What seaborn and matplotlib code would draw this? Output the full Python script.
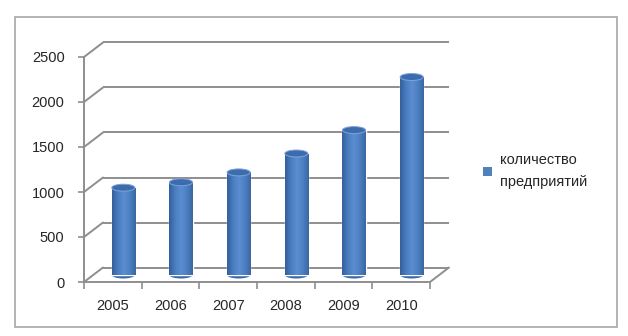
import numpy as np
import pandas as pd
import matplotlib
matplotlib.use("Agg")
import matplotlib.pyplot as plt
import seaborn as sns
from matplotlib.transforms import ScaledTranslation
from matplotlib.patches import Ellipse, Rectangle, Patch
from matplotlib.lines import Line2D
from matplotlib.colors import LinearSegmentedColormap

# ---- data ----
years = ["2005", "2006", "2007", "2008", "2009", "2010"]
counts = [970, 1030, 1140, 1350, 1610, 2200]
y_ticks = [0, 500, 1000, 1500, 2000, 2500]
series_label = "количество\nпредприятий"

sns.set_theme(style="white")
plt.rcParams['font.family'] = ['Liberation Sans', 'DejaVu Sans']

DPI = 100
fig = plt.figure(figsize=(6.28, 3.36), dpi=DPI)
W, H = 628, 336
left, right, bottom_px, top_px = 84, 430, 282, 57
ax = fig.add_axes([left / W, 1 - bottom_px / H, (right - left) / W, (bottom_px - top_px) / H])

df = pd.DataFrame({"year": years, "count": counts})
BLUE = "#4a7ebb"
sns.barplot(data=df, x="year", y="count", color=BLUE, width=0.4, ax=ax,
            saturation=1, zorder=3)

ax.set_xlim(-0.5, len(years) - 0.5)
ax.set_ylim(0, 2500)
ax.set_yticks(y_ticks)
ax.set_xlabel("")
ax.set_ylabel("")

GRID = "#8e8e8e"
back_dx, back_dy = 19 / DPI, 14.5 / DPI
mid_dx, mid_dy = 10.5 / DPI, 7 / DPI
back_tr = ax.transData + ScaledTranslation(back_dx, back_dy, fig.dpi_scale_trans)
bar_tr = ax.transData + ScaledTranslation(mid_dx, mid_dy, fig.dpi_scale_trans)

xmin, xmax = ax.get_xlim()
for v in y_ticks:
    ax.plot([xmin, xmax], [v, v], color=GRID, lw=1.4, transform=back_tr,
            zorder=1, clip_on=False, solid_capstyle="butt")
    p0 = ax.transData.transform((xmin, v))
    p1 = back_tr.transform((xmin, v))
    ax.add_line(Line2D([p0[0], p1[0]], [p0[1], p1[1]], transform=None,
                       color=GRID, lw=1.4, zorder=1, clip_on=False))
p0 = ax.transData.transform((xmax, 0))
p1 = back_tr.transform((xmax, 0))
ax.add_line(Line2D([p0[0], p1[0]], [p0[1], p1[1]], transform=None,
                   color=GRID, lw=1.4, zorder=1, clip_on=False))

cmap = LinearSegmentedColormap.from_list(
    "cyl", ["#345f9c", "#4a7ec0", "#5b8dd0", "#4d80c2", "#3a66a4"])
grad = np.linspace(0, 1, 64).reshape(1, -1)
inv = ax.transData.inverted()
ell_h = inv.transform((0, 7))[1] - inv.transform((0, 0))[1]
for p in list(ax.patches):
    p.set_transform(bar_tr)
    p.set_clip_on(False)
    x, w, h = p.get_x(), p.get_width(), p.get_height()
    im = ax.imshow(grad, extent=[x, x + w, 0, h], aspect="auto", cmap=cmap,
                   zorder=4, interpolation="bicubic")
    im.set_transform(bar_tr)
    im.set_clip_path(p)
    ax.add_patch(Ellipse((x + w / 2, 0), w, ell_h, transform=bar_tr,
                         facecolor="#3c6aa8", edgecolor="none", zorder=2.5, clip_on=False))
    ax.add_patch(Ellipse((x + w / 2, h), w, ell_h, transform=bar_tr,
                         facecolor="#3d6cae", edgecolor="#7ea4d8", lw=0.7,
                         zorder=5, clip_on=False))

ax.set_xlim(xmin, xmax)
ax.set_ylim(0, 2500)

for s in ["top", "right"]:
    ax.spines[s].set_visible(False)
for s in ["left", "bottom"]:
    ax.spines[s].set_color(GRID)
    ax.spines[s].set_linewidth(1.4)
    ax.spines[s].set_zorder(1)

ax.tick_params(axis="y", which="major", left=True, length=4, width=1.2, color=GRID,
               pad=10, labelsize=10.5, labelcolor="#262626")
ax.tick_params(axis="x", which="major", bottom=False, length=0, pad=12,
               labelsize=10.5, labelcolor="#262626")
ax.set_xticks(np.arange(-0.5, len(years)), minor=True)
ax.tick_params(axis="x", which="minor", bottom=True, length=5, width=1.2, color=GRID)

handle = Patch(facecolor="#4f81bd", edgecolor="none", label=series_label)
leg = fig.legend(handles=[handle], loc="upper left", bbox_to_anchor=(483 / W, 1 - 153 / H),
                 frameon=False, handlelength=0.6, handleheight=0.6, handletextpad=0.55,
                 fontsize=10.5, borderaxespad=0, borderpad=0)
for t in leg.get_texts():
    t.set_linespacing(1.7)
    t.set_color("#262626")

fig.patches.append(Rectangle((15 / W, 1 - 327 / H), (617 - 15) / W, (327 - 17) / H,
                             transform=fig.transFigure, fill=False,
                             edgecolor="#a6a6a6", lw=1.2))

fig.savefig("out.png", dpi=DPI)
